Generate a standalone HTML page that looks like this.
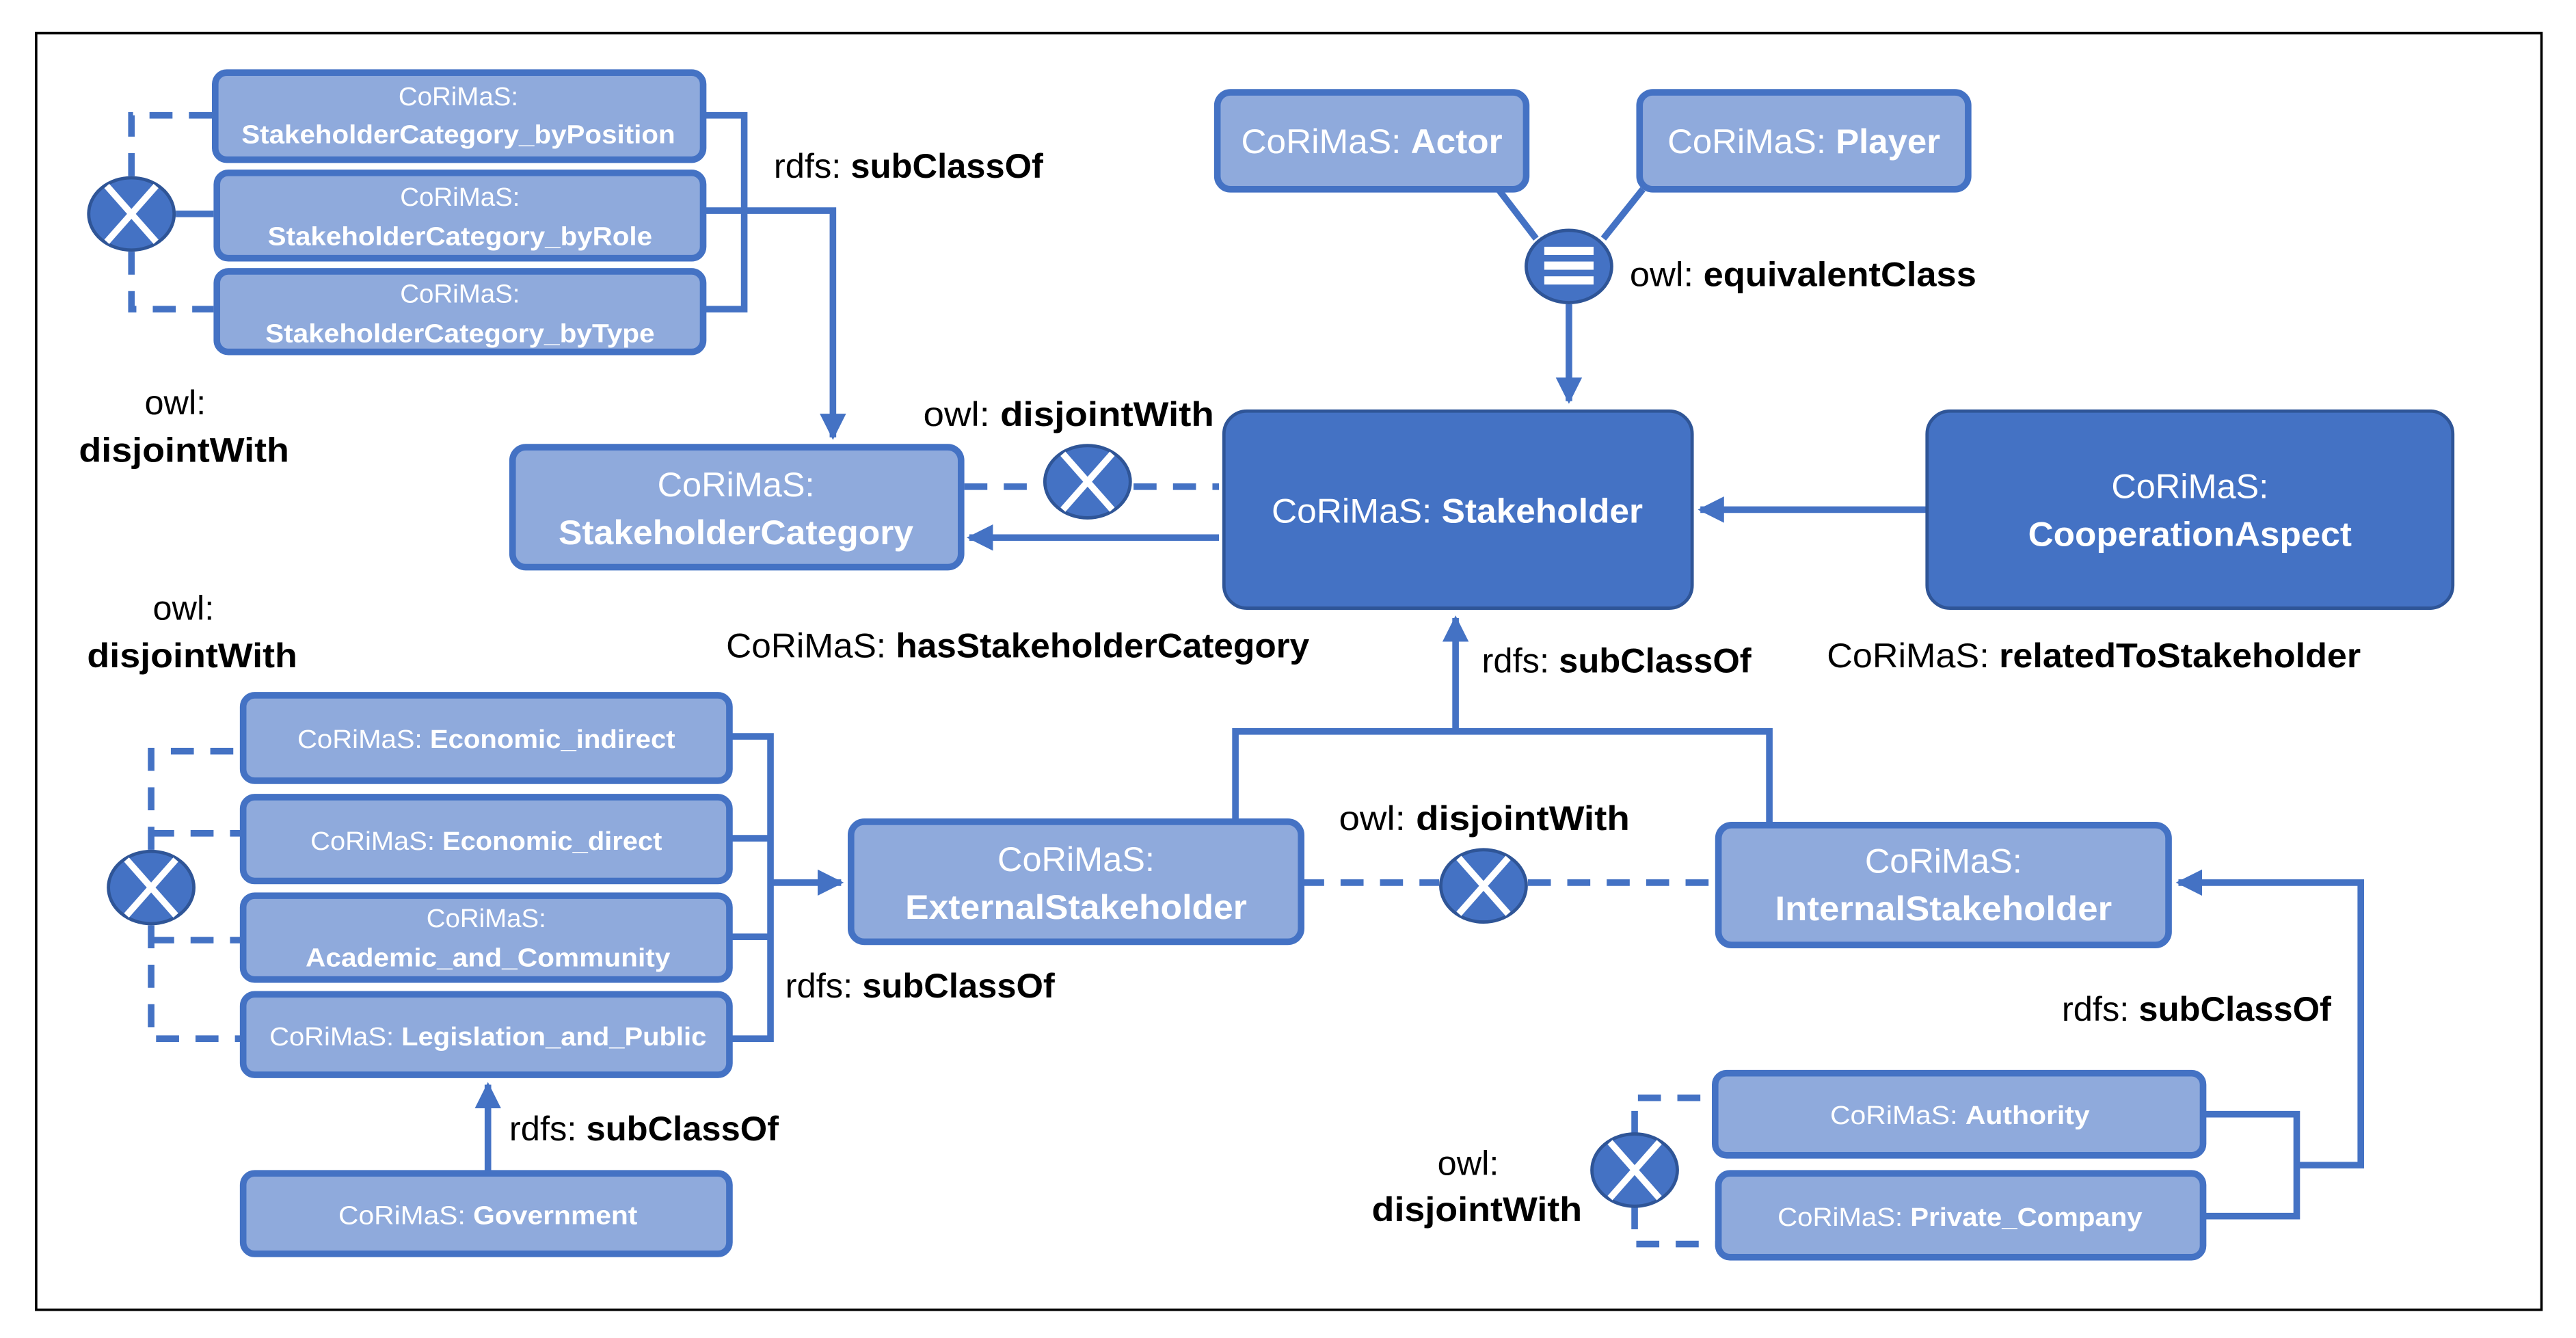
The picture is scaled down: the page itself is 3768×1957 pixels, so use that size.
<!DOCTYPE html>
<html><head><meta charset="utf-8"><style>
html,body{margin:0;padding:0;background:#fff;}
svg{display:block;}
text{font-family:"Liberation Sans Narrow","Liberation Sans",sans-serif;}
.w{fill:#fff;}
.k{fill:#000;}
.b{font-weight:bold;}
</style></head><body>
<svg width="3768" height="1957" viewBox="0 0 1568 814" xmlns="http://www.w3.org/2000/svg">
<defs>
<marker id="ar" viewBox="0 0 10 10" refX="9" refY="5" markerWidth="4" markerHeight="4" orient="auto-start-reverse" markerUnits="strokeWidth">
<path d="M0,0 L10,5 L0,10 z" fill="#4472c4"/></marker>
<g id="dis"><ellipse cx="0" cy="0" rx="26" ry="22" fill="#4472c4" stroke="#2f5597" stroke-width="2"/>
<line x1="-15" y1="-17" x2="15" y2="17" stroke="#fff" stroke-width="4"/><line x1="15" y1="-17" x2="-15" y2="17" stroke="#fff" stroke-width="4"/></g>
</defs>
<rect x="22" y="20" width="1525" height="777" fill="none" stroke="#000" stroke-width="1.5"/>

<g fill="none" stroke="#4472c4" stroke-width="4">
<!-- top-left cluster -->
<path d="M80,107 V70 H130" stroke-dasharray="14,10"/>
<path d="M80,153 V188 H130" stroke-dasharray="14,10"/>
<path d="M107,130 H130"/>
<path d="M428,70 H453 V188 H428 M428,128 H507 V266" marker-end="url(#ar)"/>
<!-- stakeholder category -->
<path d="M587,296 H635 M690,296 H742" stroke-dasharray="14,10"/>
<path d="M742,327 H590" marker-end="url(#ar)"/>
<!-- equivalent -->
<path d="M912,115 L935,145 M1000,115 L976,145"/>
<path d="M955,185 V244" marker-end="url(#ar)"/>
<path d="M1173,310 H1035" marker-end="url(#ar)"/>
<!-- subclass up -->
<path d="M752,500 V445 H1077 V500 M886,445 V376" marker-end="url(#ar)"/>
<path d="M792,537 H876 M930,537 H1046" stroke-dasharray="14,10"/>
<!-- bottom-left -->
<path d="M444,448 H469 V632 H444 M444,510 H469 M444,570 H469 M469,537 H512" marker-end="url(#ar)"/>
<path d="M92,517 V457 H148 M92,507 H148 M92,563 V632 H148 M92,572 H148" stroke-dasharray="14,10"/>
<path d="M297,714 V660" marker-end="url(#ar)"/>
<!-- bottom-right -->
<path d="M1341,678 H1398 V740 H1341 M1398,709 H1437 V537 H1326" marker-end="url(#ar)"/>
<path d="M995,690 V668 H1044 M995,734 V757 H1046" stroke-dasharray="14,10"/>
</g>

<!-- boxes light -->
<g fill="#8faadc" stroke="#4472c4" stroke-width="4">
<rect x="131" y="44" width="297" height="53" rx="7"/>
<rect x="132" y="105" width="296" height="52" rx="7"/>
<rect x="132" y="165" width="296" height="49" rx="7"/>
<rect x="312" y="272" width="273" height="73" rx="8"/>
<rect x="741" y="56" width="188" height="59" rx="8"/>
<rect x="998" y="56" width="200" height="59" rx="8"/>
<rect x="518" y="500" width="274" height="73" rx="8"/>
<rect x="1046" y="502" width="274" height="73" rx="8"/>
<rect x="148" y="423" width="296" height="52" rx="7"/>
<rect x="148" y="485" width="296" height="51" rx="7"/>
<rect x="148" y="545" width="296" height="51" rx="7"/>
<rect x="148" y="605" width="296" height="49" rx="7"/>
<rect x="148" y="714" width="296" height="49" rx="7"/>
<rect x="1044" y="653" width="297" height="50" rx="7"/>
<rect x="1046" y="714" width="295" height="51" rx="7"/>
</g>
<g fill="#4472c4" stroke="#2f5597" stroke-width="2">
<rect x="745" y="250" width="285" height="120" rx="14"/>
<rect x="1173" y="250" width="320" height="120" rx="14"/>
</g>

<use href="#dis" x="80" y="130"/>
<use href="#dis" x="662" y="293"/>
<use href="#dis" x="903" y="539"/>
<use href="#dis" x="92" y="540"/>
<use href="#dis" x="995" y="712"/>
<g>
<ellipse cx="955" cy="162" rx="26" ry="22" fill="#4472c4" stroke="#2f5597" stroke-width="2"/>
<rect x="940" y="150" width="30" height="5" fill="#fff"/>
<rect x="940" y="159" width="30" height="5" fill="#fff"/>
<rect x="940" y="168" width="30" height="5" fill="#fff"/>
</g>

<!-- box text -->
<g class="w" font-size="16" text-anchor="middle">
<text x="279" y="64">CoRiMaS:</text>
<text x="279" y="87" class="b" textLength="264" lengthAdjust="spacingAndGlyphs">StakeholderCategory_byPosition</text>
<text x="280" y="125">CoRiMaS:</text>
<text x="280" y="149" class="b" textLength="234" lengthAdjust="spacingAndGlyphs">StakeholderCategory_byRole</text>
<text x="280" y="184">CoRiMaS:</text>
<text x="280" y="208" class="b" textLength="237" lengthAdjust="spacingAndGlyphs">StakeholderCategory_byType</text>
<text x="296" y="455" textLength="230" lengthAdjust="spacingAndGlyphs">CoRiMaS: <tspan class="b">Economic_indirect</tspan></text>
<text x="296" y="517" textLength="214" lengthAdjust="spacingAndGlyphs">CoRiMaS: <tspan class="b">Economic_direct</tspan></text>
<text x="296" y="564">CoRiMaS:</text>
<text x="297" y="588" class="b" textLength="222" lengthAdjust="spacingAndGlyphs">Academic_and_Community</text>
<text x="297" y="636" textLength="266" lengthAdjust="spacingAndGlyphs">CoRiMaS: <tspan class="b">Legislation_and_Public</tspan></text>
<text x="297" y="745" textLength="182" lengthAdjust="spacingAndGlyphs">CoRiMaS: <tspan class="b">Government</tspan></text>
<text x="1193" y="684" textLength="158" lengthAdjust="spacingAndGlyphs">CoRiMaS: <tspan class="b">Authority</tspan></text>
<text x="1193" y="746" textLength="222" lengthAdjust="spacingAndGlyphs">CoRiMaS: <tspan class="b">Private_Company</tspan></text>
</g>
<g class="w" font-size="21" text-anchor="middle">
<text x="448" y="302">CoRiMaS:</text>
<text x="448" y="331" class="b" textLength="216" lengthAdjust="spacingAndGlyphs">StakeholderCategory</text>
<text x="835" y="93" textLength="159" lengthAdjust="spacingAndGlyphs">CoRiMaS: <tspan class="b">Actor</tspan></text>
<text x="1098" y="93" textLength="166" lengthAdjust="spacingAndGlyphs">CoRiMaS: <tspan class="b">Player</tspan></text>
<text x="887" y="318" textLength="226" lengthAdjust="spacingAndGlyphs">CoRiMaS: <tspan class="b">Stakeholder</tspan></text>
<text x="1333" y="303">CoRiMaS:</text>
<text x="1333" y="332" class="b" textLength="197" lengthAdjust="spacingAndGlyphs">CooperationAspect</text>
<text x="655" y="530">CoRiMaS:</text>
<text x="655" y="559" class="b" textLength="208" lengthAdjust="spacingAndGlyphs">ExternalStakeholder</text>
<text x="1183" y="531">CoRiMaS:</text>
<text x="1183" y="560" class="b" textLength="205" lengthAdjust="spacingAndGlyphs">InternalStakeholder</text>
</g>

<!-- labels -->
<g class="k" font-size="21">
<text x="471" y="108" textLength="164" lengthAdjust="spacingAndGlyphs">rdfs: <tspan class="b">subClassOf</tspan></text>
<text x="88" y="252">owl:</text>
<text x="48" y="281" class="b" textLength="128" lengthAdjust="spacingAndGlyphs">disjointWith</text>
<text x="562" y="259" textLength="177" lengthAdjust="spacingAndGlyphs">owl: <tspan class="b">disjointWith</tspan></text>
<text x="992" y="174" textLength="211" lengthAdjust="spacingAndGlyphs">owl: <tspan class="b">equivalentClass</tspan></text>
<text x="442" y="400" textLength="355" lengthAdjust="spacingAndGlyphs">CoRiMaS: <tspan class="b">hasStakeholderCategory</tspan></text>
<text x="902" y="409" textLength="164" lengthAdjust="spacingAndGlyphs">rdfs: <tspan class="b">subClassOf</tspan></text>
<text x="1112" y="406" textLength="325" lengthAdjust="spacingAndGlyphs">CoRiMaS: <tspan class="b">relatedToStakeholder</tspan></text>
<text x="93" y="377">owl:</text>
<text x="53" y="406" class="b" textLength="128" lengthAdjust="spacingAndGlyphs">disjointWith</text>
<text x="815" y="505" textLength="177" lengthAdjust="spacingAndGlyphs">owl: <tspan class="b">disjointWith</tspan></text>
<text x="478" y="607" textLength="164" lengthAdjust="spacingAndGlyphs">rdfs: <tspan class="b">subClassOf</tspan></text>
<text x="310" y="694" textLength="164" lengthAdjust="spacingAndGlyphs">rdfs: <tspan class="b">subClassOf</tspan></text>
<text x="1255" y="621" textLength="164" lengthAdjust="spacingAndGlyphs">rdfs: <tspan class="b">subClassOf</tspan></text>
<text x="875" y="715">owl:</text>
<text x="835" y="743" class="b" textLength="128" lengthAdjust="spacingAndGlyphs">disjointWith</text>
</g>
</svg>
</body></html>
